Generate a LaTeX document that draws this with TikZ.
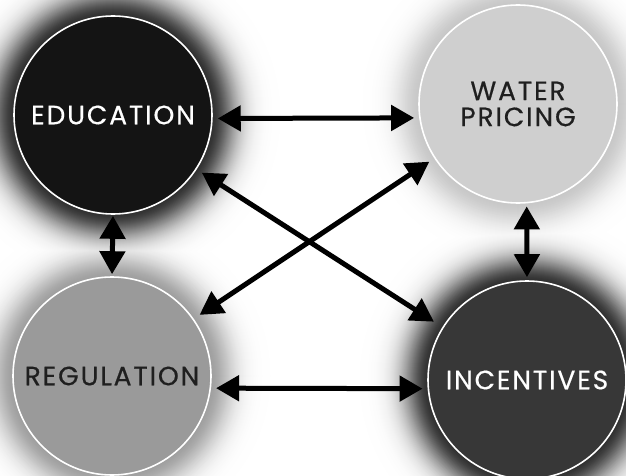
\documentclass[tikz,border=0pt]{standalone}
\usepackage{fontspec}
\setmainfont{Poppins}
\newfontfamily\labfont{Poppins}[UprightFeatures={FakeBold=0.5}, LetterSpace=7]
\usetikzlibrary{arrows.meta}
\definecolor{cedu}{HTML}{141414}
\definecolor{cwat}{HTML}{CFCFCF}
\definecolor{creg}{HTML}{9A9A9A}
\definecolor{cinc}{HTML}{373737}
\tikzset{
  bubble/.style={circle, draw=white, line width=1.6pt, minimum size=198pt, inner sep=0pt, align=center, font=\labfont\fontsize{26.5}{28}\selectfont},
  link/.style={line width=5pt, {Triangle[length=23pt,width=25pt]}-{Triangle[length=23pt,width=25pt]}, shorten <=5pt, shorten >=5pt}
}
% soft glow: gaussian fall-off drawn as concentric grey discs, darkest inside
\newcommand{\myglow}[4]{%
  \foreach \d in {70,69,...,0} {%
    \pgfmathsetmacro{\pp}{#3*exp(-(\d/#4)^2)}%
    \fill[black!\pp, blend mode=darken] (#1) circle ({#2+\d});}}
\begin{document}
\begin{tikzpicture}[x=1pt,y=-1pt]
\useasboundingbox (0,0) rectangle (626,476);
\fill[white] (0,0) rectangle (626,476);
\coordinate (pedu) at (113,115);
\coordinate (pwat) at (518,104);
\coordinate (preg) at (112,376);
\coordinate (pinc) at (527,380);
\myglow{pedu}{97}{82}{28}
\myglow{pwat}{97}{22}{26}
\myglow{preg}{97}{38}{26}
\myglow{pinc}{97}{82}{28}
\node[bubble, fill=cedu, text=white] (edu) at (pedu) {EDUCATION};
\node[bubble, fill=cwat, text=black!88] (wat) at (pwat) {WATER\\[-2pt]PRICING};
\node[bubble, fill=creg, text=black!88] (reg) at (preg) {REGULATION};
\node[bubble, fill=cinc, text=white] (inc) at (pinc) {INCENTIVES};
\draw[link] (edu.-2) -- (wat.188);
\draw[link] (reg.-7) -- (inc.185);
\draw[link, shorten <=1pt, shorten >=2pt] (edu.south) -- (reg.north);
\draw[link, shorten <=3pt, shorten >=3pt] (wat.-85) -- (inc.90);
\draw[link, shorten <=6pt, shorten >=10pt] (edu.-33) -- (inc.148);
\draw[link, shorten <=6pt, shorten >=7pt] (wat.-147) -- (reg.35);
\end{tikzpicture}
\end{document}
